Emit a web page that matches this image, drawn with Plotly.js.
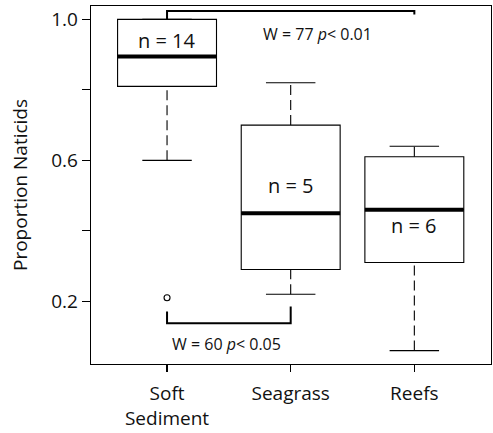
<!DOCTYPE html>
<html>
<head>
<meta charset="utf-8">
<script src="https://cdn.plot.ly/plotly-3.0.1.min.js"></script>
<style>html,body{margin:0;padding:0;background:#fff;}#chart{width:493px;height:433px;}</style>
</head>
<body>
<div id="chart"></div>
<script>
// ---- data ----
const categories = ['Soft<br>Sediment', 'Seagrass', 'Reefs'];
const lowerWhisker = [0.60, 0.22, 0.06];
const q1 = [0.81, 0.29, 0.31];
const median = [0.895, 0.45, 0.46];
const q3 = [1.00, 0.70, 0.61];
const upperWhisker = [1.00, 0.82, 0.64];
const outlierGroup = [0];
const outlierValue = [0.21];
const nLabels = ['n = 14', 'n = 5', 'n = 6'];
const nLabelY = [0.94, 0.53, 0.415];
// comparison brackets: [from group, to group]
const testPairs = [[0, 2], [0, 1]];
const testLabels = ['W = 77 <i>p</i>< 0.01', 'W = 60 <i>p</i>< 0.05'];
const bracketLevel = [1.0235, 0.138];
const bracketEnds = [[1.0, 1.014], [0.171, 0.185]];
const testLabelY = [0.958, 0.079];

// ---- build ----
const xs = categories.map((c, i) => i);
const halfBox = 0.4, halfCap = 0.2;
const traces = [];

traces.push({
  type: 'box', x: xs, q1: q1, median: median, q3: q3,
  lowerfence: q1, upperfence: q3, width: 0.8,
  whiskerwidth: 0, boxpoints: false,
  fillcolor: '#ffffff', line: {color: '#000', width: 1.1},
  hoverinfo: 'skip', showlegend: false
});

// dashed whiskers
const wx = [], wy = [];
xs.forEach(i => {
  wx.push(i, i, null, i, i, null);
  wy.push(q3[i], upperWhisker[i], null, lowerWhisker[i], q1[i], null);
});
traces.push({type: 'scatter', mode: 'lines', x: wx, y: wy,
  line: {color: '#000', width: 1.1, dash: '10px,5px'}, hoverinfo: 'skip', showlegend: false});

// caps
const cx = [], cy = [];
xs.forEach(i => {
  cx.push(i - halfCap, i + halfCap, null, i - halfCap, i + halfCap, null);
  cy.push(upperWhisker[i], upperWhisker[i], null, lowerWhisker[i], lowerWhisker[i], null);
});
traces.push({type: 'scatter', mode: 'lines', x: cx, y: cy,
  line: {color: '#000', width: 1.1}, hoverinfo: 'skip', showlegend: false});

// thick medians
const mx = [], my = [];
xs.forEach(i => { mx.push(i - halfBox, i + halfBox, null); my.push(median[i], median[i], null); });
traces.push({type: 'scatter', mode: 'lines', x: mx, y: my,
  line: {color: '#000', width: 4}, hoverinfo: 'skip', showlegend: false});

// outliers
traces.push({type: 'scatter', mode: 'markers', x: outlierGroup, y: outlierValue,
  marker: {symbol: 'circle-open', size: 6, color: '#000', line: {width: 1.1}},
  hoverinfo: 'skip', showlegend: false});

// brackets
testPairs.forEach((p, k) => {
  traces.push({type: 'scatter', mode: 'lines',
    x: [p[0], p[0], p[1], p[1]],
    y: [bracketEnds[k][0], bracketLevel[k], bracketLevel[k], bracketEnds[k][1]],
    line: {color: '#000', width: 2}, hoverinfo: 'skip', showlegend: false});
});

const annotations = [];
xs.forEach(i => annotations.push({x: i, y: nLabelY[i], xref: 'x', yref: 'y',
  text: nLabels[i], showarrow: false, font: {size: 20, color: '#111'}}));
annotations.push({x: 1.22, y: testLabelY[0], xref: 'x', yref: 'y', text: testLabels[0],
  showarrow: false, font: {size: 16, color: '#111'}});
annotations.push({x: 0.478, y: testLabelY[1], xref: 'x', yref: 'y', text: testLabels[1],
  showarrow: false, font: {size: 16, color: '#111'}});

const layout = {
  width: 493, height: 433,
  margin: {l: 91, r: 2, t: 6, b: 69},
  paper_bgcolor: '#fff', plot_bgcolor: '#fff',
  font: {family: '"Open Sans", sans-serif', color: '#111', size: 19},
  showlegend: false,
  xaxis: {
    range: [-0.615, 2.62], tickvals: xs, ticktext: categories,
    showgrid: false, zeroline: false, showline: true, mirror: true,
    linecolor: '#000', linewidth: 1.3, ticks: 'outside', ticklen: 7,
    tickcolor: '#000', tickwidth: 1.1, tickfont: {size: 19}, ticklabelstandoff: 5
  },
  yaxis: {
    range: [0.022, 1.038],
    tickvals: [0.2, 0.4, 0.6, 0.8, 1.0], ticktext: ['0.2', '', '0.6', '', '1.0'],
    showgrid: false, zeroline: false, showline: true, mirror: true,
    linecolor: '#000', linewidth: 1.3, ticks: 'outside', ticklen: 8,
    tickcolor: '#000', tickwidth: 1.1, tickfont: {size: 19},
    title: {text: 'Proportion Naticids', font: {size: 19}, standoff: 18}
  },
  annotations: annotations
};

Plotly.newPlot('chart', traces, layout, {displayModeBar: false, staticPlot: true});
</script>
</body>
</html>
